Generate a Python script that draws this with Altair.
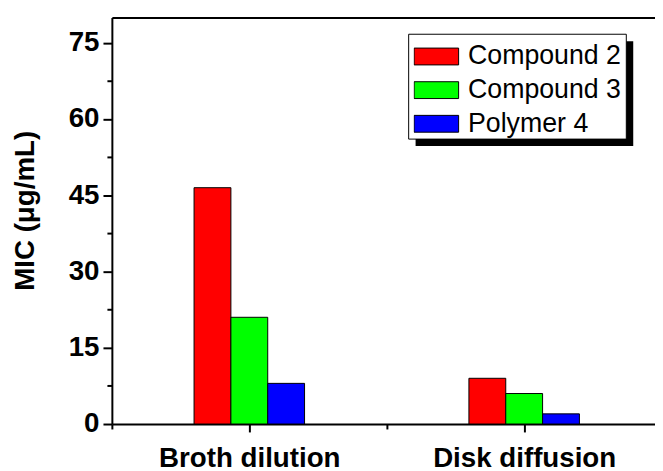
import altair as alt
import pandas as pd

categories = ["Broth dilution", "Disk diffusion"]
series = ["Compound 2", "Compound 3", "Polymer 4"]
compound2 = [46.5, 9.0]
compound3 = [21.0, 6.0]
polymer4 = [8.0, 2.0]
colors = ["#FF0000", "#00FF00", "#0000FF"]
y_major = [0, 15, 30, 45, 60, 75]
y_minor = [7.5, 22.5, 37.5, 52.5, 67.5]
x_major = [1, 2]
x_minor = [0.5, 1.5]

rows = []
for si, (name, vals) in enumerate(zip(series, [compound2, compound3, polymer4])):
    for gi, (cat, v) in enumerate(zip(categories, vals)):
        rows.append({"category": cat, "g": gi + 1, "series": name, "s": si, "value": v})
df = pd.DataFrame(rows)

BW = 0.134
label_expr = " : ".join(f"datum.value == {i + 1} ? '{c}'" for i, c in enumerate(categories)) + " : ''"

xscale = alt.Scale(domain=[0.5, 2.476], nice=False, zero=False)
yscale = alt.Scale(domain=[0, 80], nice=False)

FONT = "Liberation Sans"
TICK_W = 2
DOMAIN_W = 2

base = alt.Chart(df).transform_calculate(
    x0=f"datum.g + (datum.s - 1) * {BW} - {BW / 2}",
    x1=f"datum.g + (datum.s - 1) * {BW} + {BW / 2}",
    zero="0",
)

bars = base.mark_rect(stroke="black", strokeWidth=1, opacity=1).encode(
    x=alt.X("x0:Q", scale=xscale, axis=alt.Axis(
        orient="bottom", values=x_major, labelExpr=label_expr, title=None, grid=False,
        ticks=False, domainColor="black", domainWidth=DOMAIN_W,
        labelFont=FONT, labelFontSize=28, labelFontWeight="bold", labelColor="black",
        labelPadding=21, labelFlush=False, labelOverlap=False, labelLimit=0,
    )),
    x2="x1:Q",
    y=alt.Y("value:Q", scale=yscale, axis=alt.Axis(
        orient="left", values=y_major, title="MIC (μg/mL)", grid=False,
        ticks=True, tickSize=9, tickColor="black", tickWidth=TICK_W,
        domainColor="black", domainWidth=DOMAIN_W,
        labelFont=FONT, labelFontSize=28, labelFontWeight="bold", labelColor="black",
        labelPadding=4, labelFlush=False, labelOverlap=False,
        titleFont=FONT, titleFontSize=28, titleFontWeight="bold", titleColor="black",
        titleX=-79, titleY=195, titleAngle=-90, titleBaseline="alphabetic", titleAlign="center",
    )),
    y2="zero:Q",
    color=alt.Color("series:N", scale=alt.Scale(domain=series, range=colors), legend=alt.Legend(
        orient="none", legendX=305, legendY=22.5, title=None,
        symbolType="M-1,-0.378H1V0.378H-1Z", symbolSize=2025,
        symbolStrokeColor="black", symbolStrokeWidth=1, symbolOpacity=1,
        labelFont=FONT, labelFontSize=27, labelColor="black", labelOffset=9, labelLimit=0,
        clipHeight=34, rowPadding=0, padding=0,
        strokeColor="transparent", fillColor="transparent",
    )),
)

x_major_ticks = base.mark_point(opacity=0).encode(
    x=alt.X("x0:Q", scale=xscale, axis=alt.Axis(
        orient="bottom", values=x_major, labels=False, domain=False, title=None, grid=False,
        ticks=True, tickSize=8, tickColor="black", tickWidth=TICK_W,
    )),
)

minor = base.mark_point(opacity=0).encode(
    x=alt.X("x0:Q", scale=xscale, axis=alt.Axis(
        orient="bottom", values=x_minor, labels=False, domain=False, title=None, grid=False,
        ticks=True, tickSize=5, tickColor="black", tickWidth=TICK_W,
    )),
    y=alt.Y("value:Q", scale=yscale, axis=alt.Axis(
        orient="left", values=y_minor, labels=False, domain=False, title=None, grid=False,
        ticks=True, tickSize=5, tickColor="black", tickWidth=TICK_W,
    )),
)

top_frame = base.mark_point(opacity=0).encode(
    x=alt.X("x0:Q", scale=xscale, axis=alt.Axis(
        orient="top", labels=False, ticks=False, title=None, grid=False,
        domainColor="black", domainWidth=DOMAIN_W,
    )),
)

deco = pd.DataFrame({"k": [0]})
shadow = alt.Chart(deco).mark_rect(color="black").encode(
    x=alt.value(307), x2=alt.value(527), y=alt.value(24), y2=alt.value(130),
)
legend_box = alt.Chart(deco).mark_rect(fill="white", stroke="black", strokeWidth=1).encode(
    x=alt.value(300), x2=alt.value(520), y=alt.value(17), y2=alt.value(123),
)

chart = alt.layer(bars, x_major_ticks, minor, top_frame, shadow, legend_box).resolve_axis(
    x="independent", y="independent"
).properties(
    width=549, height=411,
    autosize=alt.AutoSizeParams(type="none"),
    padding={"left": 105, "top": 7, "right": 0, "bottom": 49},
).configure_view(stroke=None)

chart.save("out.html", embed_options={"renderer": "svg", "actions": False})
